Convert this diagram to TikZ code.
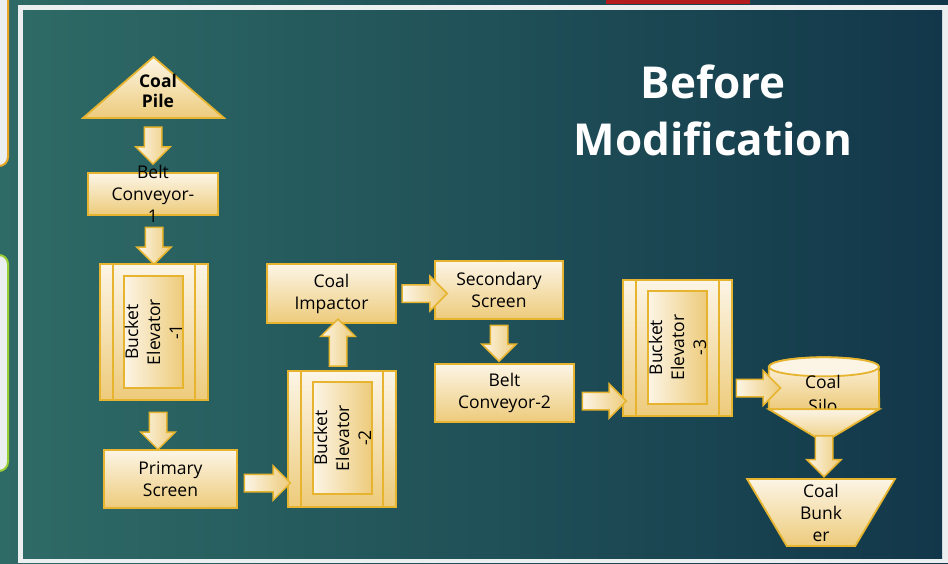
\documentclass[tikz,border=0pt]{standalone}
\usepackage{fontspec}
\setmainfont{Open Sans}
\usepackage{tikz}
\usetikzlibrary{shapes.geometric, shapes.arrows, calc, positioning}
\definecolor{cream}{HTML}{FCF5E6}
\definecolor{gold}{HTML}{EDCB7B}
\definecolor{goldline}{HTML}{E6B42E}
\definecolor{slidelight}{HTML}{2E6A66}
\definecolor{slidedark}{HTML}{12374A}
\definecolor{framegrey}{HTML}{ECEFEF}
\definecolor{tabamber}{HTML}{E8A623}
\definecolor{tablime}{HTML}{9ACD32}
\definecolor{tabred}{HTML}{B31B1C}
\tikzstyle{block} = [rectangle, draw=goldline, line width=1.8pt, top color=cream, bottom color=gold, inner sep=0pt, text centered, align=center, font=\fontsize{17.5}{22}\selectfont]
\tikzstyle{bucket} = [block, minimum width=108pt, minimum height=136pt]
\tikzstyle{core} = [rectangle, draw=goldline, line width=1.8pt, left color=cream, right color=gold, minimum width=59pt, minimum height=112pt]
\tikzstyle{words} = [inner sep=0pt, align=center, font=\fontsize{17.5}{22}\selectfont]
\tikzstyle{elevtext} = [words, rotate=90]
\tikzstyle{heading} = [inner sep=0pt, align=center, text=white, font=\fontsize{44}{57}\selectfont\bfseries]
\tikzstyle{flow} = [single arrow, draw=goldline, line width=1.5pt, left color=cream, right color=gold, inner xsep=0pt, inner ysep=8pt, single arrow head extend=8.5pt, single arrow tip angle=90, sloped, allow upside down]
\tikzstyle{strip} = [draw=goldline, line width=1.8pt]

\begin{document}
\begin{tikzpicture}[x=1pt, y=1pt]
		\clip (0,0) rectangle (948,-563);
		\shade[left color=slidelight, right color=slidedark] (0,0) rectangle (948,-563);
		\fill[framegrey] (18,-5) rectangle (948,-563);
		\shade[left color=slidelight, right color=slidedark] (23,-10) rectangle (942,-558);
		\fill[tabred] (606,0) rectangle (750,-4);
		\draw[line width=2pt, draw=tabamber, fill=framegrey, rounded corners=9pt] (-30,20) rectangle (8,-166);
		\draw[line width=2pt, draw=tablime, fill=framegrey, rounded corners=9pt] (-30,-255) rectangle (8,-471);

		\node (Heading) [heading] at (713,-110) {Before\\Modification};

		\draw[strip, top color=cream, bottom color=gold] (83,-118) -- (153.5,-57) -- (224,-118) -- cycle;
		\coordinate (PileBase) at (153.5,-118);
		\node (Pile) [words, font=\fontsize{17.5}{20}\selectfont\bfseries] at (158,-90.5) {Coal\\Pile};

		\node (Belt1) [block, minimum width=130pt, minimum height=42pt] at (153,-194) {};
		\node (Belt1Text) [words] at (Belt1) {Belt\\Conveyor-\\1};

		\node (Elevator1) [bucket] at (154,-332) {};
		\draw[strip] ($(Elevator1.north west)+(14,0)$) -- ($(Elevator1.south west)+(14,0)$) ($(Elevator1.north east)+(-14,0)$) -- ($(Elevator1.south east)+(-14,0)$);
		\node (Core1) [core] at (153.5,-332) {};
		\node [elevtext] at (Core1) {Bucket\\Elevator\\-1};

		\node (Primary) [block, minimum width=133pt, minimum height=58pt] at (170.5,-479) {Primary\\Screen};

		\node (Elevator2) [bucket] at (342,-439) {};
		\draw[strip] ($(Elevator2.north west)+(14,0)$) -- ($(Elevator2.south west)+(14,0)$) ($(Elevator2.north east)+(-14,0)$) -- ($(Elevator2.south east)+(-14,0)$);
		\node (Core2) [core] at (342.5,-438) {};
		\node [elevtext] at (Core2) {Bucket\\Elevator\\-2};

		\node (Impactor) [block, minimum width=129pt, minimum height=59pt] at (331.5,-293.5) {Coal\\Impactor};
		\node (Secondary) [block, minimum width=128pt, minimum height=58pt] at (499,-290) {Secondary\\Screen};
		\node (Belt2) [block, minimum width=139pt, minimum height=58pt] at (504.5,-393) {Belt\\Conveyor-2};

		\node (Elevator3) [bucket, minimum width=109pt] at (677.5,-348) {};
		\draw[strip] ($(Elevator3.north west)+(14,0)$) -- ($(Elevator3.south west)+(14,0)$) ($(Elevator3.north east)+(-14,0)$) -- ($(Elevator3.south east)+(-14,0)$);
		\node (Core3) [core, minimum height=113pt] at (677.5,-347.5) {};
		\node [elevtext] at (Core3) {Bucket\\Elevator\\-3};

		\node (Silo) [minimum width=110pt, minimum height=42pt, inner sep=0pt] at (824,-388) {};
		\draw[strip, top color=cream, bottom color=gold] (Silo.south west) -- (Silo.north west) arc[start angle=180, end angle=0, x radius=55pt, y radius=9.5pt] -- (Silo.south east) -- cycle;
		\draw[strip, fill=cream] (Silo.north) ellipse [x radius=55pt, y radius=9.5pt];
		\node (SiloText) [words, font=\fontsize{17.5}{24}\selectfont] at (823,-394) {Coal\\Silo};
		\draw[strip, top color=cream, bottom color=gold] (Silo.south west) -- (Silo.south east) -- ($(Silo.south)+(0,-33)$) -- cycle;

		\node (Bunker) [block, trapezium, shape border rotate=180, trapezium left angle=67, trapezium right angle=67, trapezium stretches, minimum width=148pt, minimum height=67pt] at (821,-512.5) {Coal\\Bunk\\er};

		\path (Belt1.north |- PileBase) -- node[flow, pos=0.43, minimum height=37pt] {} (Belt1.north);
		\path (Belt1.south -| Elevator1.north) -- node[flow, pos=0.54, minimum height=37pt] {} (Elevator1.north);
		\path ($(Elevator1.south)+(4,0)$) -- node[flow, pos=0.53, minimum height=37pt] {} ($(Elevator1.south |- Primary.north)+(4,0)$);
		\path ($(Primary.east)+(0,-4)$) -- node[flow, pos=0.51, minimum height=46pt] {} ($(Primary.east -| Elevator2.west)+(0,-4)$);
		\path ($(Elevator2.north)+(-4,0)$) -- node[flow, pos=0.5, minimum height=47pt] {} ($(Elevator2.north |- Impactor.south)+(-4,0)$);
		\path (Impactor.east) -- node[flow, pos=0.63, minimum height=45pt] {} (Impactor.east -| Secondary.west);
		\path (Secondary.south) -- node[flow, pos=0.44, minimum height=36pt] {} (Secondary.south |- Belt2.north);
		\path ($(Belt2.east)+(0,-8)$) -- node[flow, pos=0.53, minimum height=44pt] {} ($(Belt2.east -| Elevator3.west)+(0,-8)$);
		\path (Elevator3.east |- Silo.west) -- node[flow, pos=0.59, minimum height=44pt] {} (Silo.west);
		\path (Silo.south) -- node[flow, pos=0.62, minimum height=41pt] {} (Silo.south |- Bunker.north);
\end{tikzpicture}
\end{document}
